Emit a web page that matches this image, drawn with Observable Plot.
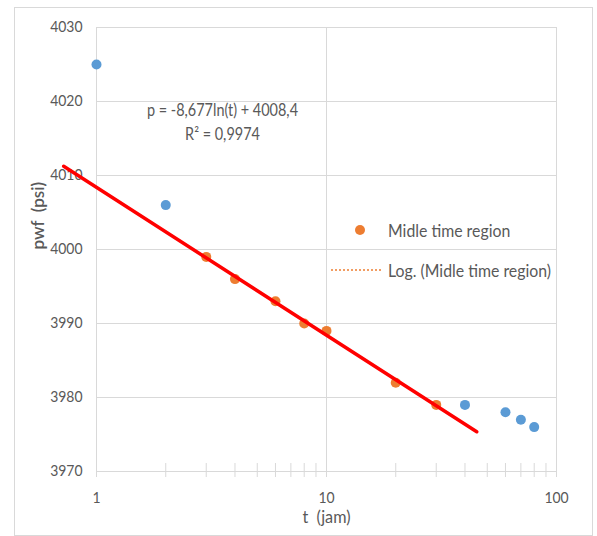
<!DOCTYPE html>
<html><head><meta charset="utf-8">
<script src="https://cdn.jsdelivr.net/npm/d3@7"></script>
<script src="https://cdn.jsdelivr.net/npm/@observablehq/plot@0.6"></script>
<style>
body{margin:0;background:#fff;}
#wrap{position:relative;width:597px;height:536px;}
#border{position:absolute;left:14px;top:7px;width:577px;height:527px;border:1px solid #d9d9d9;pointer-events:none;}
.leg{position:absolute;font-family:Lato,"Liberation Sans",sans-serif;font-size:18px;line-height:20px;color:#595959;white-space:nowrap;transform:scaleX(0.88);transform-origin:0 50%;}
</style></head>
<body><div id="wrap"><div id="border"></div></div>
<script>
// data
const blueT = [1, 2, 40, 60, 70, 80];
const blueP = [4025, 4006, 3979, 3978, 3977, 3976];
const midT = [3, 4, 6, 8, 10, 20, 30];
const midP = [3999, 3996, 3993, 3990, 3989, 3982, 3979];
const trendT = [0.72, 45];
const trendA = -8.677, trendB = 4008.4;
const yTicks = [3970, 3980, 3990, 4000, 4010, 4020, 4030];
const xMajor = [1, 10, 100];
const xMinor = [2, 3, 4, 5, 6, 7, 8, 9, 20, 30, 40, 50, 60, 70, 80, 90];
const eqLines = ["p = -8,677ln(t) + 4008,4", "R² = 0,9974"];
const legendLabels = ["Midle time region", "Log. (Midle time region)"];
const yTitle = "pwf  (psi)";
const xTitle = "t  (jam)";

const FONT = 'Lato,"Liberation Sans",sans-serif';
const GRID = "#d9d9d9", TXT = "#595959";

const chart = Plot.plot({
  width: 597, height: 536,
  marginLeft: 96, marginRight: 41, marginTop: 27, marginBottom: 65,
  x: {type: "log", domain: [xMajor[0], xMajor[xMajor.length - 1]]},
  y: {domain: [yTicks[0], yTicks[yTicks.length - 1]]},
  style: {fontFamily: FONT, background: "transparent", overflow: "visible"},
  marks: [
    Plot.ruleY(yTicks, {stroke: GRID}),
    Plot.ruleX(xMajor, {y1: yTicks[yTicks.length - 1], y2: yTicks[0], insetBottom: -6, stroke: GRID}),
    Plot.ruleX(xMinor, {y1: yTicks[0], y2: yTicks[0], insetTop: -8, insetBottom: -6, stroke: GRID}),
    Plot.axisY(yTicks, {tickSize: 0, tickPadding: 14, fontSize: 15.5, fill: TXT, label: null, tickFormat: "d"}),
    Plot.axisX(xMajor, {tickSize: 0, tickPadding: 20, fontSize: 15.5, fill: TXT, label: null, tickFormat: "d"}),
    Plot.text([yTitle], {frameAnchor: "left", rotate: -90, dx: -58, fontSize: 17, fill: "#595959", fontWeight: 600, style: "letter-spacing:1.5px"}),
    Plot.text([xTitle], {frameAnchor: "bottom", dy: 51, fontSize: 18, fill: "#595959"}),
    Plot.dot(blueT, {x: d => d, y: (d, i) => blueP[i], r: 5, fill: "#5b9bd5"}),
    Plot.dot(midT, {x: d => d, y: (d, i) => midP[i], r: 5, fill: "#ed7d31"}),
    Plot.line(trendT, {x: d => d, y: d => trendA * Math.log(d) + trendB, stroke: "#ff0000", strokeWidth: 3.5}),
    Plot.text([eqLines.join("\n")], {frameAnchor: "top-left", textAnchor: "middle", dx: 126, dy: 93, lineAnchor: "middle", lineHeight: 1.41, fontSize: 17, fill: TXT, className: "eq"})
  ]
});
// condense text horizontally (Calibri-like look)
chart.querySelectorAll("text").forEach(t => {
  if (t.textContent.replace(/\s+/g, " ") === yTitle.replace(/\s+/g, " ")) return;
  const tr = t.getAttribute("transform");
  const k = t.closest(".eq") ? 0.85 : 0.9;
  if (tr) t.setAttribute("transform", tr + ` scale(${k},1)`);
});
const wrap = document.getElementById("wrap");
wrap.insertBefore(chart, wrap.firstChild);

// legend
const dot = document.createElement("div");
dot.style.cssText = "position:absolute;left:355px;top:225px;width:10px;height:10px;border-radius:50%;background:#ed7d31;";
wrap.appendChild(dot);
const dash = document.createElementNS("http://www.w3.org/2000/svg", "svg");
dash.setAttribute("width", 50); dash.setAttribute("height", 4);
dash.style.cssText = "position:absolute;left:331px;top:268px;";
dash.innerHTML = '<line x1="0" x2="50" y1="2" y2="2" stroke="#ed7d31" stroke-width="1.5" stroke-dasharray="2 2"/>';
wrap.appendChild(dash);
legendLabels.forEach((t, i) => {
  const d = document.createElement("div");
  d.className = "leg";
  d.textContent = t;
  d.style.left = "388px";
  d.style.top = (i === 0 ? 220 : 260) + "px";
  wrap.appendChild(d);
});
</script>
</body></html>
